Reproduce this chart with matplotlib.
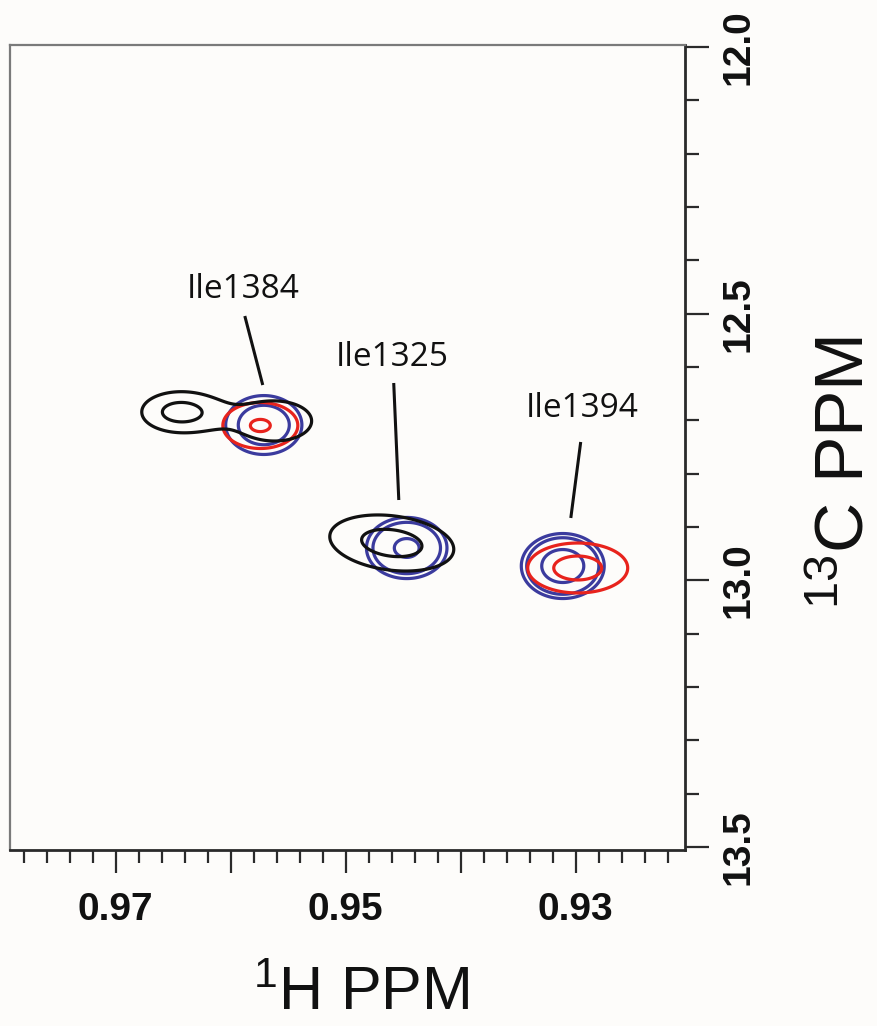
import numpy as np
import matplotlib
matplotlib.use('Agg')
import matplotlib.pyplot as plt
from matplotlib.ticker import MultipleLocator

plt.rcParams['mathtext.fontset'] = 'custom'
plt.rcParams['mathtext.rm'] = 'Liberation Sans'
plt.rcParams['mathtext.it'] = 'Liberation Sans:italic'
plt.rcParams['mathtext.bf'] = 'Liberation Sans:bold'

# ---------------- data (ppm) ----------------
# black spectrum peaks
black_x = [0.96443, 0.95617, 0.94600]
black_y = [12.6844, 12.7013, 12.9300]
black_wx = [0.00251, 0.00330, 0.00400]
black_wy = [0.0285, 0.0386, 0.0380]
black_amp = [5.95, 4.0, 6.2]
black_tilt = [0.0, 0.0, -2.2]
black_levels = [2.5, 5.0]

# blue spectrum peaks
blue_x = [0.95713, 0.94470, 0.93113]
blue_y = [12.7088, 12.9394, 12.9732]
blue_wx = [0.00300, 0.00232, 0.002165]
blue_wy = [0.0500, 0.0380, 0.0366]
blue_amp = [4.6, 7.8, 10.0]
blue_tilt = [0.0, 0.0, 0.0]
blue_levels = [2.5, 3.5, 7.0]

# red spectrum peaks
red_x = [0.95743, 0.92983]
red_y = [12.7097, 12.9769]
red_wx = [0.00267, 0.00324]
red_wy = [0.0353, 0.0349]
red_amp = [5.27, 6.15]
red_tilt = [0.0, 0.0]
red_levels = [2.5, 5.0]

# residue labels: name, text position, pointer line start/end (ppm)
label_names = ['Ile1384', 'Ile1325', 'Ile1394']
label_text_x = [0.95896, 0.94600, 0.92948]
label_text_y = [12.4538, 12.5813, 12.6769]
label_line_x0 = [0.95878, 0.94583, 0.92957]
label_line_y0 = [12.5044, 12.6300, 12.7406]
label_line_x1 = [0.95722, 0.94539, 0.93043]
label_line_y1 = [12.6338, 12.8494, 12.8831]

x_major = [0.97, 0.96, 0.95, 0.94, 0.93]
x_major_labels = ['0.97', '', '0.95', '', '0.93']
y_major = [12.0, 12.5, 13.0, 13.5]
y_major_labels = ['12.0', '12.5', '13.0', '13.5']

# ---------------- figure ----------------
bg = '#fdfcfa'
fig = plt.figure(figsize=(8.78, 10.26), dpi=100, facecolor=bg)
ax = fig.add_axes([10/878, 1-850/1026, 675/878, 805/1026])
ax.set_facecolor(bg)

xlim = (0.9792, 0.9205)
ylim = (13.5057, 11.9962)
gx = np.linspace(0.918, 0.982, 700)
gy = np.linspace(11.99, 13.51, 700)
X, Y = np.meshgrid(gx, gy)


def field(px, py, wx, wy, amp, tilt):
    Z = np.zeros_like(X)
    for x0, y0, sx, sy, a, k in zip(px, py, wx, wy, amp, tilt):
        dx = X - x0
        dy = (Y - y0) - k * dx
        Z += a * np.exp(-0.5 * ((dx / sx) ** 2 + (dy / sy) ** 2))
    return Z


lw = 2.3
ax.contour(X, Y, field(blue_x, blue_y, blue_wx, blue_wy, blue_amp, blue_tilt),
           levels=blue_levels, colors='#3b3b9e', linewidths=lw)
ax.contour(X, Y, field(red_x, red_y, red_wx, red_wy, red_amp, red_tilt),
           levels=red_levels, colors='#e8231c', linewidths=lw)
ax.contour(X, Y, field(black_x, black_y, black_wx, black_wy, black_amp, black_tilt),
           levels=black_levels, colors='#111111', linewidths=lw)

for name, tx, ty, x0, y0, x1, y1 in zip(label_names, label_text_x, label_text_y,
                                         label_line_x0, label_line_y0,
                                         label_line_x1, label_line_y1):
    ax.text(tx, ty, name, ha='center', va='center', fontsize=24,
            family='Open Sans', color='#111111')
    ax.plot([x0, x1], [y0, y1], color='#111111', lw=2.2, solid_capstyle='butt')

ax.set_xlim(*xlim)
ax.set_ylim(*ylim)

# spines
for s in ['left', 'top']:
    ax.spines[s].set_color('#7a7a7a')
    ax.spines[s].set_linewidth(1.6)
for s in ['right', 'bottom']:
    ax.spines[s].set_color('#2a2a2a')
    ax.spines[s].set_linewidth(2.0)

# x ticks
ax.set_xticks(x_major)
ax.set_xticklabels(x_major_labels, fontsize=28, fontweight='bold',
                   family='Liberation Sans', color='#111111')
ax.xaxis.set_minor_locator(MultipleLocator(0.002))
ax.tick_params(axis='x', which='major', direction='out', length=16.5, width=1.6,
               color='#2a2a2a', pad=14)
ax.tick_params(axis='x', which='minor', direction='out', length=9.5, width=1.6,
               color='#2a2a2a')

# y ticks (right side)
ax.yaxis.tick_right()
ax.set_yticks(y_major)
ax.set_yticklabels(y_major_labels, fontsize=28, fontweight='bold',
                   family='Liberation Sans', color='#111111', rotation=90,
                   va='center')
ax.yaxis.set_minor_locator(MultipleLocator(0.1))
ax.tick_params(axis='y', which='major', direction='out', length=17.5, width=1.6,
               color='#2a2a2a', pad=8)
ax.tick_params(axis='y', which='minor', direction='out', length=10, width=1.6,
               color='#2a2a2a')

fig.text(361/878, 3/1026, r'$^{1}$H PPM', ha='center', va='bottom',
         fontsize=44, family='Liberation Sans', color='#111111')
fig.text(846/878, 1-472/1026, r'$^{13}$C PPM', ha='center', va='center',
         rotation=90, fontsize=50, family='Liberation Sans', color='#111111')

fig.savefig('out.png', dpi=100, facecolor=bg)
